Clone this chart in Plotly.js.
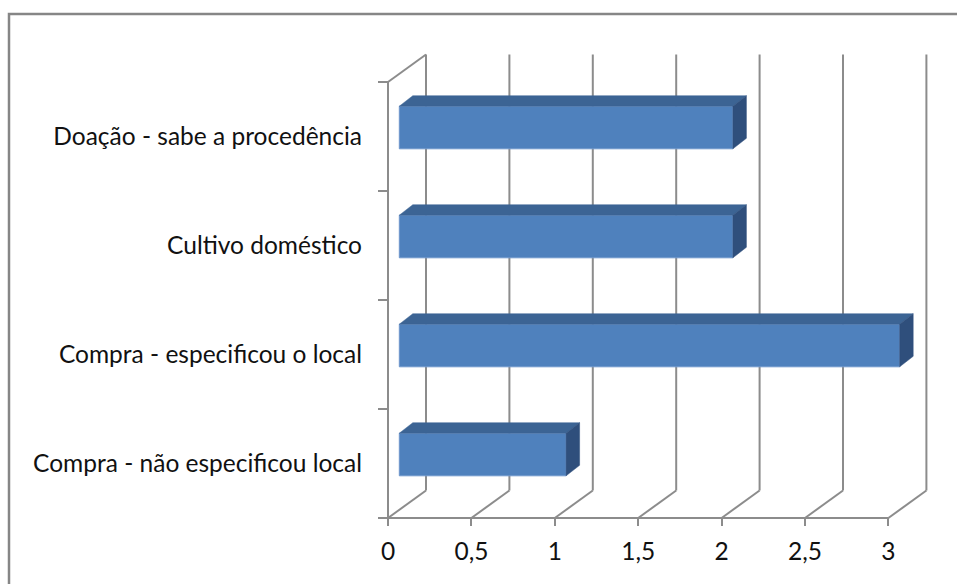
<!DOCTYPE html>
<html>
<head>
<meta charset="utf-8">
<script src="https://cdn.plot.ly/plotly-3.0.1.min.js"></script>
<style>html,body{margin:0;padding:0;background:#fff;}#chart{width:957px;height:584px;}</style>
</head>
<body>
<div id="chart"></div>
<script>
// ---- data ----
const categories = ['Compra - não especificou local', 'Compra - especificou o local', 'Cultivo doméstico', 'Doação - sabe a procedência'];
const values = [1, 3, 2, 2];
const xTickVals = [0, 0.5, 1, 1.5, 2, 2.5, 3];
const xMax = 3;

// ---- styling / geometry (pixel based depth effect) ----
const PX = 1 / 166.8;    // x units per pixel
const PY = 1 / 109;      // y units per pixel
const backDX = 38 * PX, backDY = 27.5 * PY;
const barOffX = 11.3 * PX, barOffY = 9 * PY;
const barDepX = 13.5 * PX, barDepY = 10.5 * PY;
const barHalf = 21.3 * PY;
const gridColor = '#8c8c8c';
const nCat = categories.length;

// gridlines
const gx = [], gy = [];
xTickVals.forEach(v => {
  gx.push(v + backDX, v + backDX, null); gy.push(backDY, nCat + backDY, null);
  gx.push(v, v + backDX, null); gy.push(0, backDY, null);
});
// front axes + top-left diagonal
gx.push(0, xMax, null); gy.push(0, 0, null);
gx.push(0, 0, null); gy.push(0, nCat, null);
gx.push(0, backDX, null); gy.push(nCat, nCat + backDY, null);

// bar faces
const fx = [], fy = [], tx = [], ty = [], sx = [], sy = [];
values.forEach((v, i) => {
  const x0 = barOffX, x1 = barOffX + v;
  const yc = i + 0.5 + barOffY;
  const yb = yc - barHalf, yt = yc + barHalf;
  fx.push(x0, x1, x1, x0, x0, null); fy.push(yb, yb, yt, yt, yb, null);
  tx.push(x0, x0 + barDepX, x1 + barDepX, x1, x0, null); ty.push(yt, yt + barDepY, yt + barDepY, yt, yt, null);
  sx.push(x1, x1 + barDepX, x1 + barDepX, x1, x1, null); sy.push(yt, yt + barDepY, yb + barDepY, yb, yt, null);
});

const traces = [
  {type: 'scatter', mode: 'lines', x: gx, y: gy, line: {color: gridColor, width: 2}, hoverinfo: 'skip', connectgaps: false},
  {type: 'scatter', mode: 'lines', x: fx, y: fy, fill: 'toself', fillcolor: '#4f81bd', line: {color: '#6f97cc', width: 1}, hoverinfo: 'skip'},
  {type: 'scatter', mode: 'lines', x: tx, y: ty, fill: 'toself', fillcolor: '#3c6494', line: {color: '#3c6494', width: 0.5}, hoverinfo: 'skip'},
  {type: 'scatter', mode: 'lines', x: sx, y: sy, fill: 'toself', fillcolor: '#2f4f7c', line: {color: '#2f4f7c', width: 0.5}, hoverinfo: 'skip'}
];

const font = {family: 'Lato, "Open Sans", sans-serif', size: 24.5, color: '#111'};

const L = 378, R = 4, T = 40, B = 58;
const plotW = 957 - L - R, plotH = 584 - T - B;

const layout = {
  width: 957, height: 584,
  margin: {l: L, r: R, t: T, b: B},
  paper_bgcolor: '#fff', plot_bgcolor: 'rgba(0,0,0,0)',
  showlegend: false,
  separators: ', ',
  font: font,
  xaxis: {
    range: [-10 * PX, (plotW - 10) * PX], showgrid: false, zeroline: false, showline: false,
    tickmode: 'array', tickvals: xTickVals, ticks: 'inside', ticklen: 8, tickwidth: 2, tickcolor: gridColor,
    tickfont: font, ticklabelstandoff: 8, fixedrange: true
  },
  yaxis: {
    range: [-8 * PY, (plotH - 8) * PY], showgrid: false, zeroline: false, showline: false,
    tickmode: 'array', tickvals: categories.map((c, i) => i + 0.5), ticktext: categories, ticks: '',
    tickfont: font, ticklabelstandoff: 15, fixedrange: true,
    minor: {tickmode: 'array', tickvals: categories.map((c, i) => i).concat([nCat]), ticks: 'inside', ticklen: 10, tickwidth: 2, tickcolor: gridColor, showgrid: false}
  },
  shapes: [
    {type: 'rect', xref: 'paper', yref: 'paper', x0: (9 - L) / plotW, x1: (990 - L) / plotW, y0: (584 - B - 620) / plotH, y1: (584 - B - 14) / plotH,
     line: {color: '#868686', width: 2.5}, fillcolor: 'rgba(0,0,0,0)', layer: 'below'}
  ]
};

Plotly.newPlot('chart', traces, layout, {staticPlot: true, displayModeBar: false});
</script>
</body>
</html>
